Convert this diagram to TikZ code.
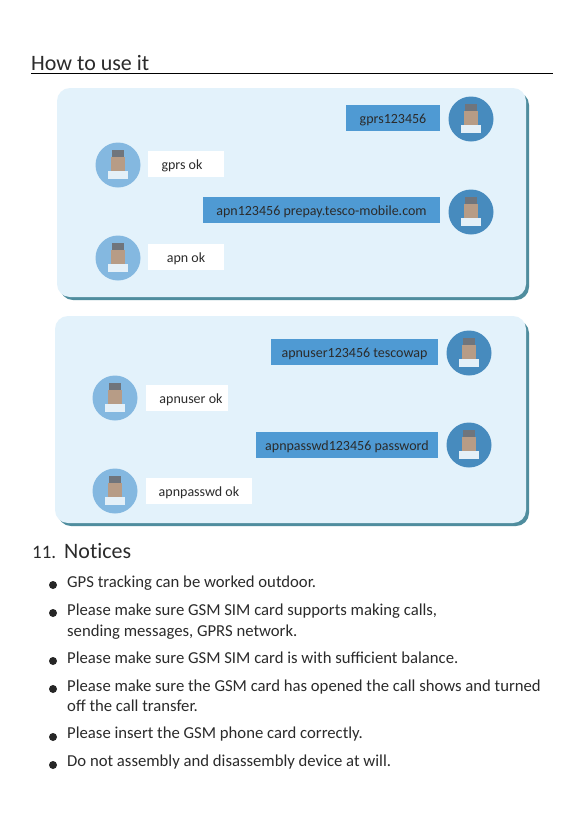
\documentclass[tikz,border=0pt]{standalone}
\usepackage{fontspec}
\setmainfont{Carlito}
\usetikzlibrary{positioning}
\definecolor{panelfill}{HTML}{E3F2FB}
\definecolor{panelshade}{HTML}{4F8D9E}
\definecolor{sentfill}{HTML}{4F9AD3}
\definecolor{inkcolor}{HTML}{2B2B2B}
\definecolor{skincolor}{HTML}{B79C86}
\definecolor{haircolor}{HTML}{70757C}
\tikzset{
  panel/.style={draw=none,fill=panelfill,rounded corners=13pt},
  shade/.style={draw=none,fill=panelshade,rounded corners=13pt},
  sent/.style={fill=sentfill,inner sep=0pt,minimum height=26pt,text height=11.5pt,text depth=0pt,text=inkcolor,font=\fontsize{14}{16}\selectfont},
  recv/.style={fill=white,inner sep=0pt,minimum height=26pt,text height=11.5pt,text depth=0pt,text=inkcolor,font=\fontsize{14}{16}\selectfont},
  notice/.style={anchor=base west,inner sep=0pt,text=inkcolor,font=\fontsize{16.7}{19}\selectfont},
  dot/.style={circle,fill=black!85,inner sep=0pt,minimum size=8pt},
  avatar/.style={circle,inner sep=0pt,minimum size=45pt}
}
\begin{document}
\begin{tikzpicture}[x=1pt,y=-1pt]
  \useasboundingbox (0,0) rectangle (583,828);
  \fill[white] (0,0) rectangle (583,828);
  % heading
  \node[notice,font=\fontsize{22}{26}\selectfont] (howto) at (31,70) {How to use it};
  \coordinate (rulea) at (31,73);
  \coordinate (ruleb) at (553,73);
  \draw[black,line width=1pt] (rulea) -- (ruleb);
  % panels
  \fill[shade] (60,92) rectangle (529,300);
  \fill[panel] (57,88) rectangle (526,297);
  \fill[shade] (58,320) rectangle (529,526);
  \fill[panel] (55,316) rectangle (526,523);
  % avatars
  \foreach \name/\x/\y/\ring in {ua/471/119/sentfill!90!black, ub/118/165/sentfill!70,
      uc/471/212/sentfill!90!black, ud/118/258/sentfill!70,
      ue/469/353/sentfill!90!black, uf/115/398/sentfill!70,
      ug/469/445/sentfill!90!black, uh/115/491/sentfill!70} {
    \node[avatar,fill=\ring] (\name) at (\x,\y) {};
    \fill[haircolor] (\x-6,\y-15) rectangle (\x+6,\y-8);
    \fill[skincolor] (\x-7,\y-8) rectangle (\x+7,\y+6);
    \fill[white!85!sentfill] (\x-10,\y+6) rectangle (\x+10,\y+14);
  }
  % bubbles
  \node[sent,minimum width=94pt] (gprs) at (393,118) {gprs123456};
  \node[recv,minimum width=76pt] (gprsok) at (186,164) {gprs ok\hspace*{8pt}};
  \node[sent,minimum width=237pt] (apn) at (321.5,210) {apn123456 prepay.tesco-mobile.com};
  \node[recv,minimum width=76pt] (apnok) at (186,257) {apn ok};
  \node[sent,minimum width=167pt] (apnuser) at (354.5,352) {apnuser123456 tescowap};
  \node[recv,minimum width=82pt] (apnuserok) at (187,398) {\hspace*{8pt}apnuser ok};
  \node[sent,minimum width=182pt] (apnpasswd) at (347,445) {apnpasswd123456 password};
  \node[recv,minimum width=106pt] (apnpasswdok) at (199,491) {apnpasswd ok};
  % notices
  \node[notice,font=\fontsize{19}{23}\selectfont] (num) at (32,558) {11.};
  \node[notice,font=\fontsize{22}{26}\selectfont\addfontfeatures{Ligatures=NoCommon}] (notices) at (64,558) {Notices};
  \foreach \name/\y in {na/585, nb/613, nc/661, nd/689, ne/737, nf/765}
    \node[dot] (\name) at (53,\y) {};
  \node[notice] (ta) at (67,587) {GPS tracking can be worked outdoor.};
  \node[notice] (tb) at (67,615) {Please make sure GSM SIM card supports making calls,};
  \node[notice] (tc) at (67,636) {sending messages, GPRS network.};
  \node[notice] (td) at (67,663) {Please make sure GSM SIM card is with sufficient balance.};
  \node[notice] (te) at (67,691) {Please make sure the GSM card has opened the call shows and turned};
  \node[notice] (tf) at (67,711) {off the call transfer.};
  \node[notice] (tg) at (67,738) {Please insert the GSM phone card correctly.};
  \node[notice] (th) at (67,766) {Do not assembly and disassembly device at will.};
\end{tikzpicture}
\end{document}
